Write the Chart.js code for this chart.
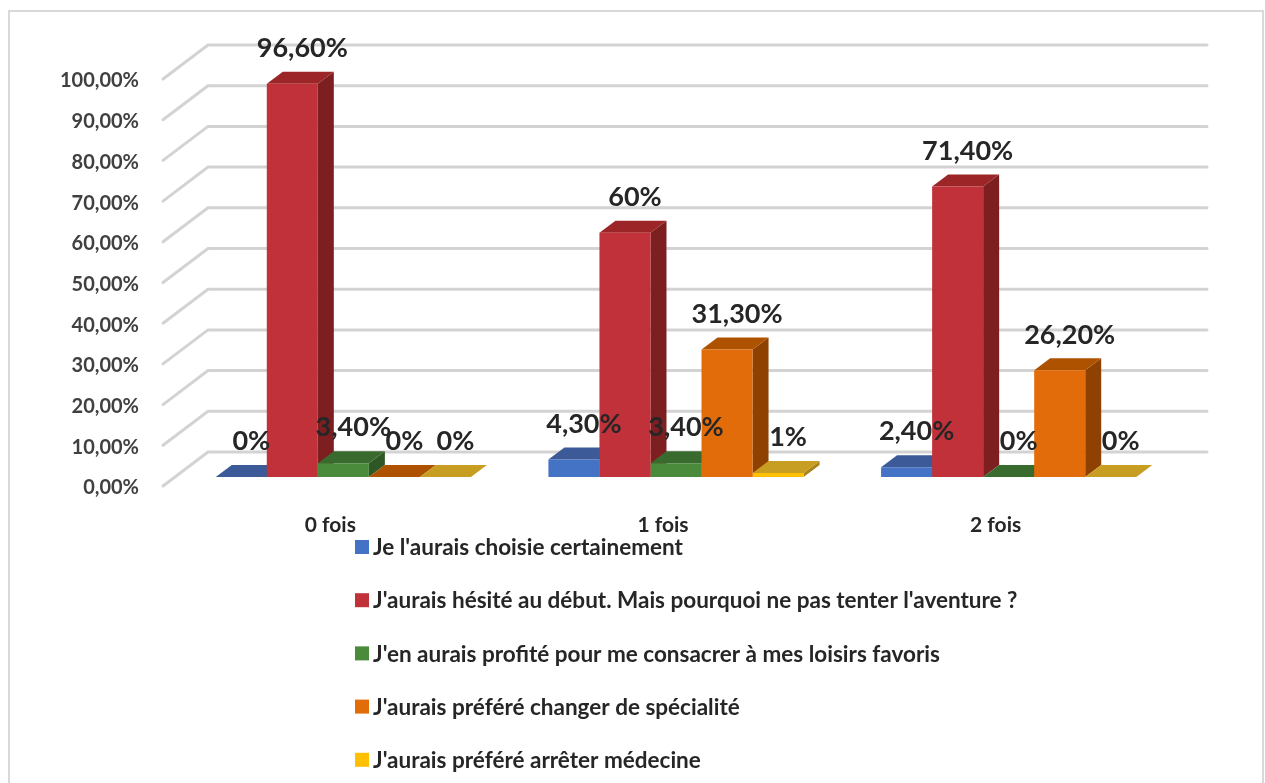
<!DOCTYPE html>
<html>
<head>
<meta charset="utf-8">
<script src="https://cdn.jsdelivr.net/npm/chart.js@4.4.0/dist/chart.umd.min.js"></script>
<style>
  html, body { margin: 0; padding: 0; background: #fff; }
  #wrap { width: 1265px; height: 783px; }
</style>
</head>
<body>
<div id="wrap"><canvas id="myChart" width="1265" height="783"></canvas></div>
<script>
'use strict'
// DATA
let categories = ['0 fois', '1 fois', '2 fois'];
let seriesNames = [
  "Je l'aurais choisie certainement",
  "J'aurais hésité au début. Mais pourquoi ne pas tenter l'aventure ?",
  "J'en aurais profité pour me consacrer à mes loisirs favoris",
  "J'aurais préféré changer de spécialité",
  "J'aurais préféré arrêter médecine"
];
let choisie = [0, 4.3, 2.4];
let hesite = [96.6, 60, 71.4];
let loisirs = [3.4, 3.4, 0];
let specialite = [0, 31.3, 26.2];
let arreter = [0, 1, 0];
let yMin = 0;
let yMax = 100;
let yStep = 10;

// colours: front face, top face, side face
let frontColors = ['#4472C4', '#C0313A', '#4A8A3B', '#E36C0A', '#FFC000'];
let topColors = ['#3B5A97', '#9C2527', '#3A6B2E', '#AE5200', '#C89E22'];
let sideColors = ['#2F4A80', '#7D1E20', '#2E5725', '#8E4100', '#A8851A'];

const FONT = 'Lato, "Open Sans", sans-serif';
// bar depth, and offsets of the front edge / back wall from the bar plane
const DX = 16, DY = 12;
const FRONT_X = -14, FRONT_Y = 9;
const BACK_X = 31, BACK_Y = -25;

function pct(v) {
  return Number.isInteger(v) ? v + '%' : v.toFixed(2).replace('.', ',') + '%';
}

function poly(ctx, pts, color) {
  ctx.beginPath();
  ctx.moveTo(pts[0][0], pts[0][1]);
  for (let i = 1; i < pts.length; i++) ctx.lineTo(pts[i][0], pts[i][1]);
  ctx.closePath();
  ctx.fillStyle = color;
  ctx.fill();
}

const bar3d = {
  id: 'bar3d',
  beforeDraw(chart) {
    let ctx = chart.ctx;
    ctx.save();
    ctx.strokeStyle = '#d9d9d9';
    ctx.lineWidth = 2;
    ctx.strokeRect(9, 11, 1254, 790);
    ctx.restore();
  },
  beforeDatasetsDraw(chart) {
    let ctx = chart.ctx;
    let y = chart.scales.y;
    let area = chart.chartArea;
    ctx.save();
    // back wall + floor gridlines
    ctx.lineCap = 'round';
    for (let v = yMin; v <= yMax; v += yStep) {
      let py = y.getPixelForValue(v);
      ctx.strokeStyle = '#d3d3d3';
      ctx.lineWidth = 3;
      ctx.beginPath();
      ctx.moveTo(area.left + FRONT_X, py + FRONT_Y);
      ctx.lineTo(area.left + BACK_X, py + BACK_Y);
      ctx.lineTo(area.right + BACK_X + 1, py + BACK_Y);
      ctx.stroke();
    }
    // side and top faces, left to right
    for (let j = 0; j < categories.length; j++) {
      chart.data.datasets.forEach((ds, i) => {
        let el = chart.getDatasetMeta(i).data[j];
        let p = el.getProps(['x', 'y', 'base', 'width'], true);
        let l = p.x - p.width / 2, r = p.x + p.width / 2;
        poly(ctx, [[r, p.y], [r + DX, p.y - DY], [r + DX, p.base - DY], [r, p.base]], sideColors[i]);
        poly(ctx, [[l, p.y], [r, p.y], [r + DX, p.y - DY], [l + DX, p.y - DY]], topColors[i]);
      });
    }
    ctx.restore();
  },
  afterDatasetsDraw(chart) {
    let ctx = chart.ctx;
    ctx.save();
    ctx.font = 'bold 27px ' + FONT;
    ctx.fillStyle = '#262626';
    ctx.textAlign = 'center';
    ctx.textBaseline = 'bottom';
    chart.data.datasets.forEach((ds, i) => {
      chart.getDatasetMeta(i).data.forEach((el, j) => {
        let p = el.getProps(['x', 'y'], true);
        ctx.fillText(pct(ds.data[j]), p.x + 10, p.y - DY - 10);
      });
    });
    ctx.restore();
  },
  afterDraw(chart) {
    // legend, one series per row
    let ctx = chart.ctx;
    ctx.save();
    ctx.font = 'bold 22.5px ' + FONT;
    ctx.textBaseline = 'middle';
    chart.data.datasets.forEach((ds, i) => {
      let cy = 547 + i * 53.2;
      ctx.fillStyle = frontColors[i];
      ctx.fillRect(355, cy - 7, 14, 14);
      ctx.fillStyle = '#262626';
      ctx.fillText(ds.label, 373, cy + 1);
    });
    ctx.restore();
  }
};

let allSeries = [choisie, hesite, loisirs, specialite, arreter];

const ctx = document.getElementById('myChart');
new Chart(ctx, {
  type: 'bar',
  data: {
    labels: categories,
    datasets: allSeries.map((values, i) => ({
      label: seriesNames[i],
      data: values,
      backgroundColor: frontColors[i],
      borderWidth: 0,
      categoryPercentage: 0.767,
      barPercentage: 1.0
    }))
  },
  options: {
    responsive: false,
    animation: false,
    layout: { padding: { top: 70, right: 90, bottom: 206, left: 0 } },
    plugins: {
      legend: { display: false },
      tooltip: { enabled: false }
    },
    scales: {
      x: {
        grid: { display: false, drawTicks: false },
        border: { display: false },
        ticks: {
          font: { family: FONT, size: 21, weight: 'bold' },
          color: '#262626',
          padding: 36,
          labelOffset: -13
        },
        afterFit(scale) { scale.height = 100; }
      },
      y: {
        min: yMin,
        max: yMax,
        grid: { display: false, drawTicks: false },
        border: { display: false },
        ticks: {
          stepSize: yStep,
          font: { family: FONT, size: 20, weight: 'bold' },
          color: '#404040',
          padding: 38,
          labelOffset: 11,
          callback: (v) => v.toFixed(2).replace('.', ',') + '%'
        },
        afterFit(scale) { scale.width = 177; }
      }
    }
  },
  plugins: [bar3d]
});
</script>
</body>
</html>
